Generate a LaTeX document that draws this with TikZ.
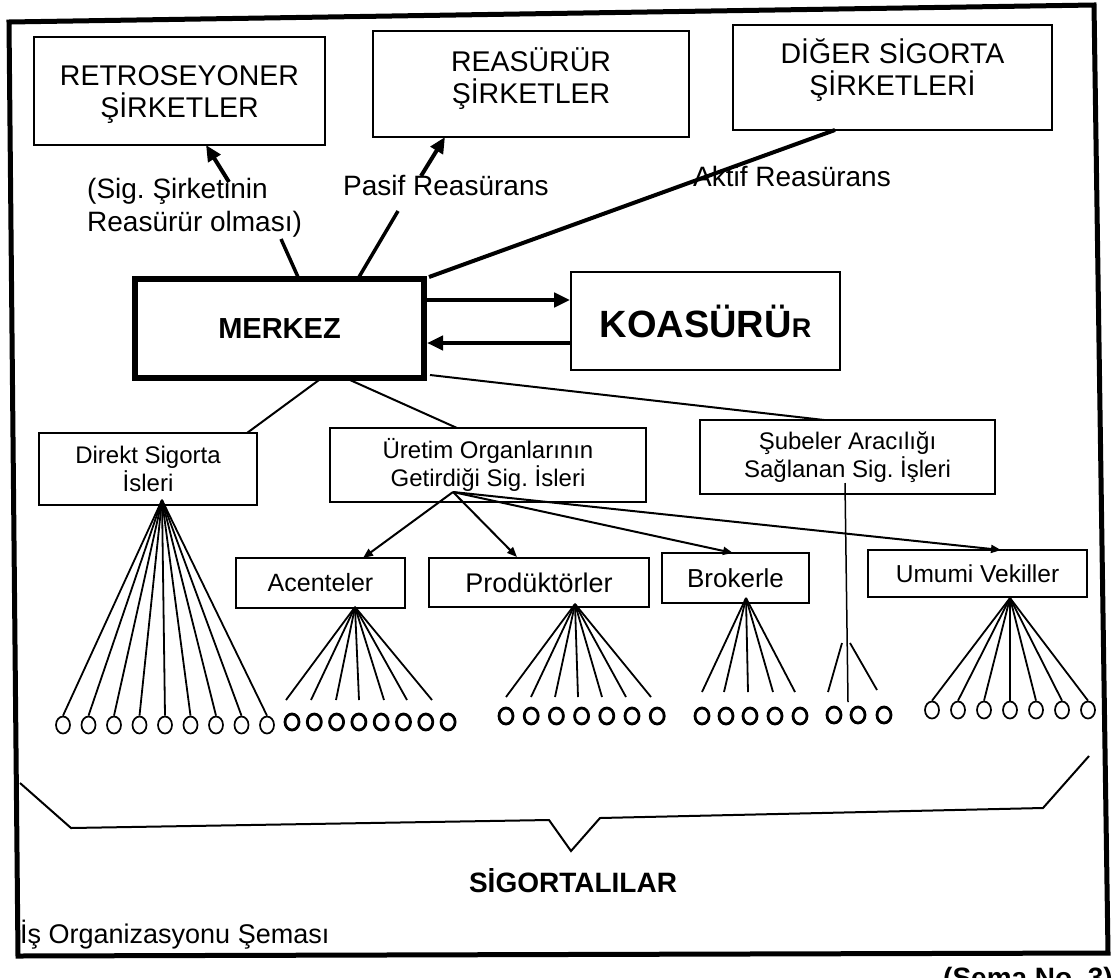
\documentclass[tikz,border=0pt]{standalone}
\usepackage{fontspec}
\setmainfont{Liberation Sans}
\usetikzlibrary{arrows.meta,shapes.geometric}
\frenchspacing
\begin{document}
\begin{tikzpicture}[x=1pt,y=-1pt,
  box/.style={draw, line width=1.6pt, inner sep=0pt, align=center},
  bigtxt/.style={font=\fontsize{28.5}{32}\selectfont},
  midtxt/.style={font=\fontsize{24}{28}\selectfont},
  lbl/.style={font=\fontsize{28}{33}\selectfont, anchor=base west, inner sep=0pt, align=left},
  fat/.style={line width=4pt, -{Triangle[length=16pt,width=14pt]}},
  conn/.style={line width=3.5pt},
  thin/.style={line width=2pt},
  slim/.style={line width=2pt, -{Triangle[length=10pt,width=8pt]}},
  fan/.style={line width=1.8pt},
  oval/.style={ellipse, draw, line width=1.7pt, minimum width=14pt, minimum height=17pt, inner sep=0pt},
  boval/.style={ellipse, draw, line width=2.8pt, minimum width=14pt, minimum height=16pt, inner sep=0pt},
]
\useasboundingbox (0,0) rectangle (1118,977);
\fill[white] (0,0) rectangle (1118,977);

% outer frame
\draw[line width=5pt, line join=miter] (9,22) coordinate (f1) -- (1094,5) coordinate (f2) -- (1108,953) coordinate (f3) -- (18,956) coordinate (f4) -- cycle;

% top boxes (anchor = baseline of last line)
\node[box, bigtxt, anchor=base, minimum width=291pt, text height=80pt, text depth=28pt] (retro) at (179.5,117) {RETROSEYONER\\ŞİRKETLER};
\node[box, bigtxt, anchor=base, minimum width=316pt, text height=72pt, text depth=34pt] (reas) at (531,103) {REASÜRÜR\\ŞİRKETLER};
\node[box, bigtxt, anchor=base, minimum width=319pt, text height=70pt, text depth=35pt] (diger) at (892.5,95) {DİĞER SİGORTA\\ŞİRKETLERİ};

% labels
\node[lbl] (lsig) at (87,231) {(Sig. Şirketinin\\Reasürür olması)};
\node[lbl] (lpas) at (343,195) {Pasif Reasürans};
\node[lbl] (lakt) at (693,186) {Aktif Reasürans};

% centre
\node[draw, line width=6pt, minimum width=289pt, minimum height=99pt, inner sep=0pt,
      font=\fontsize{29}{29}\selectfont\bfseries] (merkez) at (279.5,328.5) {MERKEZ};
\node[box, minimum width=269pt, minimum height=98pt,
      font=\fontsize{38}{38}\selectfont\bfseries] (koa) at (705.5,321) {KOASÜRÜ{\fontsize{27}{27}\selectfont R}};

% connectors to top
\coordinate (m1) at (298,277);
\coordinate (m2) at (359,277);
\coordinate (m3) at (429,277);
\coordinate (t1) at (281,239);
\coordinate (t2) at (398,211);
\draw[conn] (m1) -- (t1);
\draw[conn] (m2) -- (t2);
\draw[line width=4pt] (m3) -- (835,130) coordinate (dg);
\coordinate (a1) at (229,182);
\coordinate (a2) at (421,176);
\draw[fat] (a1) -- (206,145) coordinate (r1);
\draw[fat] (a2) -- (445,137) coordinate (r2);

% merkez <-> koasurur
\draw[fat] (merkez.east |- 0,300) -- (koa.west |- 0,300);
\draw[fat] (koa.west |- 0,343) -- (merkez.east |- 0,343);

% second level
\node[box, midtxt, minimum width=218pt, minimum height=72pt] (direkt) at (148,469) {Direkt Sigorta\\İsleri};
\node[box, midtxt, minimum width=316pt, minimum height=74pt] (uretim) at (488,465) {Üretim Organlarının\\Getirdiği Sig. İsleri};
\node[box, midtxt, minimum width=295pt, minimum height=74pt] (subeler) at (847.5,457) {Şubeler Aracılığı\\Sağlanan Sig. İşleri};

\draw[thin] (319,380) -- (247,433);
\draw[thin] (350,380) -- (457,428);
\draw[thin] (430,375) -- (824,420);

% third level
\node[box, font=\fontsize{25}{25}\selectfont, minimum width=169pt, minimum height=50pt] (acente) at (320.5,583) {Acenteler};
\node[box, font=\fontsize{27}{27}\selectfont, minimum width=220pt, minimum height=49pt] (produk) at (539,582.5) {Prodüktörler};
\node[box, font=\fontsize{26}{26}\selectfont, minimum width=147pt, minimum height=50pt] (broker) at (735.5,578) {Brokerle};
\node[box, font=\fontsize{24.5}{24.5}\selectfont, minimum width=219pt, minimum height=47pt] (umumi) at (977.5,573.5) {Umumi Vekiller};

\coordinate (uo) at (453,492);
\draw[slim] (uo) -- (363,558);
\draw[slim] (uo) -- (517,557);
\draw[slim] (uo) -- (733,553);
\draw[slim] (uo) -- (1001,550);

% fans and insured circles
\coordinate (ad) at (162,500);
\foreach \i in {0,...,8} {
  \node[oval] (d\i) at ({63+25.5*\i},725) {};
  \draw[fan] (ad) -- (d\i.north);
}
\coordinate (aa) at (355,607);
\foreach \x in {286,311,336,359,384,407,432} \draw[fan] (aa) -- (\x,700);
\foreach \i in {0,...,7} \node[boval] (e\i) at ({292+22.3*\i},722) {};

\coordinate (ap) at (575,604);
\foreach \x in {506,531,555,578,602,626,651} \draw[fan] (ap) -- (\x,697);
\foreach \i in {0,...,6} \node[boval] (p\i) at ({506+25.2*\i},716) {};

\coordinate (ab) at (746,598);
\foreach \x in {702,724,748,773,795} \draw[fan] (ab) -- (\x,692);
\foreach \x [count=\i] in {702,726,750,775,800} \node[boval] (b\i) at (\x,716) {};

\draw[line width=1.5pt] (845,483) coordinate (s0) -- (848,702);
\draw[fan] (842,643) -- (828,692);
\draw[fan] (850,643) -- (877,690);
\foreach \x [count=\i] in {834,858,884} \node[boval] (s\i) at (\x,715) {};

\coordinate (au) at (1010,598);
\foreach \i in {0,...,6} {
  \node[oval] (u\i) at ({932+26*\i},710) {};
  \draw[fan] (au) -- (u\i.north);
}

% brace
\draw[line width=2pt, line join=miter] (20,783) -- (71,828) -- (549,820) -- (571,851) -- (600,818) -- (1043,808) -- (1089,756);

% bottom texts
\node[font=\fontsize{28}{28}\selectfont\bfseries, inner sep=0pt] (sig) at (573,881) {SİGORTALILAR};
\node[font=\fontsize{27}{27}\selectfont, anchor=base west, inner sep=0pt] (title) at (20,943) {İş Organizasyonu Şeması};
\begin{scope}
  \clip (0,0) rectangle (1118,977);
  \node[font=\fontsize{28}{28}\selectfont\bfseries, anchor=north west, inner sep=0pt] (sema) at (943,967) {(Şema No. 3)};
\end{scope}
\end{tikzpicture}
\end{document}
